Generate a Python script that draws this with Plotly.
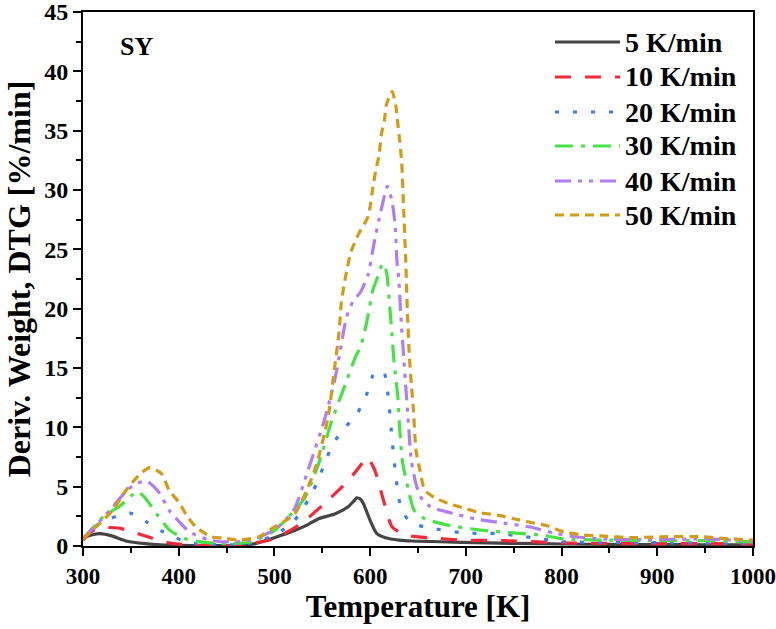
import plotly.graph_objects as go

# ---------------- data ----------------
T5 = [300, 310, 318, 330, 346, 365, 381, 400, 430, 460, 480, 500, 521, 535, 546, 563, 577, 583, 586, 590, 593, 600, 607, 616, 630, 644, 665, 696, 750, 800, 850, 900, 950, 1000]
D5 = [0.7, 0.95, 1.04, 0.85, 0.4, 0.2, 0.1, 0.05, 0.03, 0.05, 0.2, 0.7, 1.3, 1.8, 2.3, 2.7, 3.3, 3.8, 4.06, 3.95, 3.56, 2.16, 1.04, 0.7, 0.5, 0.42, 0.38, 0.3, 0.22, 0.17, 0.13, 0.12, 0.1, 0.1]

T10 = [300, 310, 321, 338, 352, 365, 377, 391, 416, 440, 460, 475, 500, 528, 552, 577, 591, 597, 605, 614, 623, 637, 661, 696, 739, 774, 809, 850, 900, 950, 1000]
D10 = [0.48, 1.3, 1.55, 1.5, 1.18, 0.85, 0.53, 0.25, 0.06, 0.03, 0.05, 0.2, 0.62, 1.9, 3.56, 5.5, 6.9, 7.5, 6.36, 3.84, 1.6, 0.92, 0.7, 0.5, 0.45, 0.35, 0.25, 0.22, 0.2, 0.2, 0.18]

T20 = [300, 317, 335, 349, 358, 367, 384, 402, 419, 440, 460, 472, 500, 521, 535, 544, 553, 561, 574, 586, 596, 603, 609, 615, 619, 623, 626, 629, 633, 643, 664, 698, 733, 757, 778, 802, 850, 900, 950, 1000]
D20 = [0.62, 1.9, 2.5, 2.77, 2.5, 2.0, 1.18, 0.53, 0.2, 0.1, 0.1, 0.2, 0.9, 2.16, 3.84, 5.24, 7.06, 8.6, 10.0, 11.1, 12.7, 14.4, 14.8, 14.5, 12.5, 8.9, 6.5, 4.5, 3.0, 1.93, 1.5, 1.1, 1.05, 0.84, 0.6, 0.36, 0.3, 0.28, 0.25, 0.25]

T30 = [300, 321, 339, 350, 356, 362, 367, 377, 391, 409, 430, 451, 475, 500, 521, 532, 546, 560, 574, 584, 590, 594, 598, 603, 608, 613, 616, 618, 620, 622, 625, 627, 629, 631, 634, 640, 646, 657, 681, 715, 750, 778, 802, 844, 900, 950, 1000]
D30 = [0.6, 2.44, 3.4, 4.2, 4.6, 4.3, 3.84, 2.7, 1.3, 0.55, 0.28, 0.2, 0.34, 1.3, 3.0, 4.1, 6.9, 10.56, 13.6, 15.8, 16.8, 18.0, 19.5, 21.6, 22.7, 23.8, 23.4, 22.6, 20.6, 18.7, 15.5, 14.0, 12.5, 9.7, 7.0, 4.7, 3.0, 2.3, 1.76, 1.34, 1.1, 0.92, 0.6, 0.5, 0.45, 0.45, 0.35]

T40 = [300, 328, 346, 357, 367, 380, 390, 401, 411, 432, 451, 475, 500, 520, 535, 553, 563, 570, 575, 582, 590, 598, 602, 605, 609.5, 614, 618, 623, 626, 628, 630, 632, 635, 637.5, 640, 643, 648, 653, 663, 684, 709, 733, 767, 792, 816, 854, 906, 950, 1000]
D40 = [0.6, 3.0, 4.7, 5.3, 5.45, 4.44, 3.0, 2.0, 1.2, 0.5, 0.34, 0.48, 1.37, 3.0, 6.36, 10.84, 14.0, 17.0, 19.2, 20.6, 21.4, 22.9, 24.6, 25.9, 27.6, 29.2, 30.3, 29.0, 27.1, 24.0, 22.4, 19.5, 16.0, 13.1, 10.3, 7.2, 5.2, 4.1, 3.3, 2.8, 2.3, 2.0, 1.6, 1.1, 0.76, 0.55, 0.55, 0.6, 0.4]

T50 = [300, 331, 345, 360, 370, 382, 390, 401, 408, 418, 434, 446, 463, 484, 498, 521, 542, 556, 562, 567.5, 570, 573, 576, 580, 588, 598, 603, 606, 609.5, 611.5, 615, 617, 623, 627, 629, 631, 633, 635, 637, 639, 641, 643, 645, 648, 652, 657, 667, 681, 698, 715, 733, 750, 767, 785, 802, 823, 844, 871, 906, 948, 975, 1000]
D50 = [0.6, 3.0, 4.7, 6.1, 6.6, 6.1, 4.7, 3.6, 2.6, 1.6, 0.78, 0.67, 0.5, 0.78, 1.5, 2.7, 6.36, 10.84, 14.5, 18.0, 20.6, 22.1, 23.4, 24.8, 26.3, 27.8, 30.3, 31.7, 33.0, 34.6, 35.9, 37.2, 38.3, 37.0, 35.5, 34.1, 32.3, 28.4, 24.5, 19.5, 16.0, 13.7, 11.7, 8.0, 6.4, 4.7, 4.1, 3.6, 3.2, 2.8, 2.6, 2.3, 2.0, 1.7, 1.2, 0.92, 0.84, 0.7, 0.78, 0.78, 0.6, 0.5]

SERIES_NAMES = ["5 K/min", "10 K/min", "20 K/min", "30 K/min", "40 K/min", "50 K/min"]
X_TICKS = [300, 400, 500, 600, 700, 800, 900, 1000]
Y_TICKS = [0, 5, 10, 15, 20, 25, 30, 35, 40, 45]
PANEL_LABEL = "SY"
X_TITLE = "Temperature [K]"
Y_TITLE = "Deriv. Weight, DTG [%/min]"

# ---------------- styles ----------------
COLORS = ["#454545", "#f7283a", "#3f7cf0", "#48e245", "#b07ef3", "#d49b16"]
DASHES = ["solid", "16px,14px", "4px,14px", "18px,8px,4px,8px",
          "16px,7px,4px,7px,4px,7px", "9px,6px"]
FONT = "Liberation Serif"

xs = [T5, T10, T20, T30, T40, T50]
ys = [D5, D10, D20, D30, D40, D50]

fig = go.Figure()
for name, x, y, c, d in zip(SERIES_NAMES, xs, ys, COLORS, DASHES):
    fig.add_trace(go.Scatter(x=x, y=y, mode="lines", name=name, showlegend=False,
                             line=dict(color=c, width=3.2, dash=d, shape="spline", smoothing=0.6)))

# manual legend (paper coordinates)
W, H = 776, 629
L, R, T, B = 83, 23, 12, 83
pw, ph = W - L - R, H - T - B

def px_x(p):
    return (p - L) / pw

def px_y(p):
    return (H - B - p) / ph

rows = [42, 77, 112, 146, 181, 215]
shapes = []
annotations = []
for name, c, d, r in zip(SERIES_NAMES, COLORS, DASHES, rows):
    shapes.append(dict(type="line", xref="paper", yref="paper",
                       x0=px_x(555), x1=px_x(620), y0=px_y(r), y1=px_y(r),
                       line=dict(color=c, width=3.2, dash=d)))
    annotations.append(dict(xref="paper", yref="paper", x=px_x(623), y=px_y(r),
                            xanchor="left", yanchor="middle", text=name, showarrow=False,
                            font=dict(family=FONT, size=28, color="black", weight="bold")))

annotations.append(dict(xref="paper", yref="paper", x=px_x(118), y=px_y(46),
                        xanchor="left", yanchor="middle", text=PANEL_LABEL, showarrow=False,
                        font=dict(family=FONT, size=26, color="black", weight="bold")))

axis_common = dict(showgrid=False, zeroline=False, showline=True, linecolor="black",
                   linewidth=2, mirror=True, ticks="outside", ticklen=8, tickwidth=2,
                   tickcolor="black", automargin=False, ticklabeloverflow="allow")

fig.update_layout(
    width=W, height=H,
    margin=dict(l=L, r=R, t=T, b=B, autoexpand=False),
    paper_bgcolor="white", plot_bgcolor="white",
    shapes=shapes, annotations=annotations,
    xaxis=dict(range=[300, 1000], tickvals=X_TICKS, ticktext=[str(v) for v in X_TICKS],
               tickfont=dict(family=FONT, size=23, color="black", weight="bold"),
               minor=dict(dtick=50, ticks="outside", ticklen=5, tickwidth=2, tickcolor="black"),
               title=dict(text=X_TITLE, standoff=6,
                          font=dict(family=FONT, size=31, color="black", weight="bold")),
               **axis_common),
    yaxis=dict(range=[0, 45], tickvals=Y_TICKS, ticktext=[str(v) for v in Y_TICKS],
               tickfont=dict(family=FONT, size=24, color="black", weight="bold"),
               minor=dict(dtick=2.5, ticks="outside", ticklen=5, tickwidth=2, tickcolor="black"),
               title=dict(text=Y_TITLE, standoff=4,
                          font=dict(family=FONT, size=32, color="black", weight="bold")),
               **axis_common),
)

fig.write_html("out.html", config={"displayModeBar": False},
               post_script="document.body.style.margin='0';")
